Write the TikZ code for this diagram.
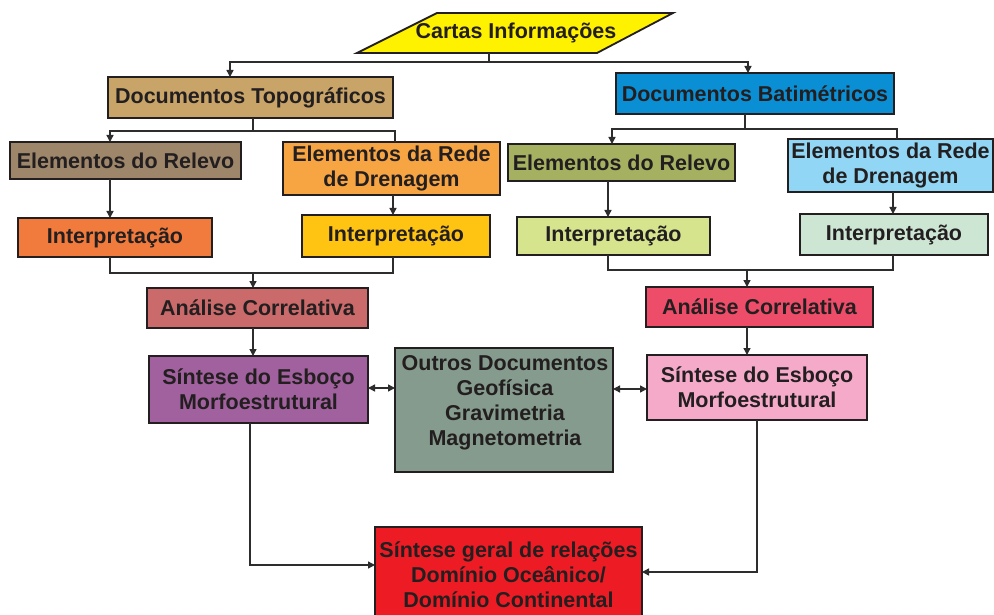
\documentclass[tikz,border=0pt]{standalone}
\usepackage{fontspec}
\setmainfont{Liberation Sans}
\usetikzlibrary{arrows.meta}
\definecolor{cCartas}{RGB}{255,242,0}
\definecolor{cTopo}{RGB}{200,164,104}
\definecolor{cBat}{RGB}{10,142,212}
\definecolor{cRelL}{RGB}{158,134,106}
\definecolor{cDrenL}{RGB}{247,164,66}
\definecolor{cIntLa}{RGB}{241,123,60}
\definecolor{cIntLb}{RGB}{255,196,18}
\definecolor{cRelR}{RGB}{165,177,96}
\definecolor{cDrenR}{RGB}{145,215,245}
\definecolor{cIntRa}{RGB}{215,228,142}
\definecolor{cIntRb}{RGB}{205,230,212}
\definecolor{cAnaL}{RGB}{202,106,106}
\definecolor{cAnaR}{RGB}{237,77,105}
\definecolor{cSinL}{RGB}{161,96,158}
\definecolor{cSinR}{RGB}{246,170,202}
\definecolor{cOutros}{RGB}{133,155,141}
\definecolor{cGeral}{RGB}{237,28,36}
\definecolor{boxline}{RGB}{35,31,32}
\definecolor{linecol}{RGB}{45,45,45}
\definecolor{txtcol}{RGB}{35,31,32}
\begin{document}
\begin{tikzpicture}[x=1pt,y=-1pt,
  lbl/.style={inner sep=0pt, outer sep=0pt, align=center, text=txtcol,
    font=\fontsize{21.5}{25}\selectfont\bfseries},
  box/.style={lbl, draw=boxline, line width=1.8pt},
  conn/.style={draw=linecol, line width=1.4pt},
  arr/.style={conn, -{Triangle[length=7pt,width=7pt]}},
  darr/.style={conn, {Triangle[length=7pt,width=7pt]}-{Triangle[length=7pt,width=7pt]}}
]
\useasboundingbox (0,0) rectangle (994,615);
\fill[white] (0,0) rectangle (994,615);

% top parallelogram
\filldraw[fill=cCartas, draw=boxline, line width=1.8pt]
  (437,13) -- (673,13) -- (597,53) -- (357,53) -- cycle;
\node[lbl] (cartas) at (516,33) {Cartas Informações};
\coordinate (cartasout) at (489,53);
\coordinate (cj) at (489,62);

% boxes
\node[box, fill=cTopo, minimum width=285pt, minimum height=41pt] (docTopo) at (250.5,97.5) {Documentos Topográficos};
\node[box, fill=cBat, minimum width=278pt, minimum height=41pt] (docBat) at (755,93.5) {Documentos Batimétricos};

\node[box, fill=cRelL, minimum width=231pt, minimum height=37pt] (relL) at (125.5,160.5) {Elementos do Relevo};
\node[box, fill=cDrenL, minimum width=217pt, minimum height=53pt] (drenL) at (391.5,168.5) {Elementos da Rede\\de Drenagem};
\node[box, fill=cRelR, minimum width=227pt, minimum height=37pt] (relR) at (621.5,162.5) {Elementos do Relevo};
\node[box, fill=cDrenR, minimum width=205pt, minimum height=53pt] (drenR) at (890.5,165.5) {Elementos da Rede\\de Drenagem};

\node[box, fill=cIntLa, minimum width=194pt, minimum height=39pt] (intLa) at (115,237.5) {Interpretação};
\node[box, fill=cIntLb, minimum width=188pt, minimum height=42pt] (intLb) at (396,236) {Interpretação};
\node[box, fill=cIntRa, minimum width=193pt, minimum height=38pt] (intRa) at (613.5,236) {Interpretação};
\node[box, fill=cIntRb, minimum width=188pt, minimum height=41pt] (intRb) at (894,234.5) {Interpretação};

\node[box, fill=cAnaL, minimum width=221pt, minimum height=40pt] (anaL) at (257.5,308) {Análise Correlativa};
\node[box, fill=cAnaR, minimum width=227pt, minimum height=40pt] (anaR) at (759.5,307) {Análise Correlativa};

\node[box, fill=cSinL, minimum width=219pt, minimum height=67pt] (sinL) at (258.5,389.5) {Síntese do Esboço\\Morfoestrutural};
\node[box, fill=cSinR, minimum width=220pt, minimum height=65pt] (sinR) at (757,387.5) {Síntese do Esboço\\Morfoestrutural};

\node[box, fill=cOutros, minimum width=218pt, minimum height=124pt] (outros) at (504,410) {};
\node[lbl] (outrosTxt) at (505,403) {Outros Documentos\\Geofísica\\Gravimetria\\Magnetometria};

\node[box, fill=cGeral, minimum width=267pt, minimum height=96pt] (geral) at (508.5,575) {Síntese geral de relações\\Domínio Oceânico/\\Domínio Continental};

% connectors from top
\draw[conn] (cartasout) -- (cj);
\draw[arr] (cj) -| ([xshift=-20.5pt]docTopo.north);
\draw[arr] (cj) -| ([xshift=-7pt]docBat.north);

% left branch
\coordinate (tj) at (253,131);
\draw[conn] ([xshift=2.5pt]docTopo.south) -- (tj);
\draw[arr] (tj) -| ([xshift=-15.5pt]relL.north);
\draw[conn] (tj) -| ([xshift=3.5pt]drenL.north);
\draw[arr] ([xshift=-15.5pt]relL.south) -- ([xshift=-15.5pt]relL.south |- intLa.north);
\draw[arr] ([xshift=1.5pt]drenL.south) -- ([xshift=1.5pt]drenL.south |- intLb.north);

% right branch
\coordinate (bj) at (745,129);
\draw[conn] ([xshift=-10pt]docBat.south) -- (bj);
\draw[arr] (bj) -| ([xshift=-9.5pt]relR.north);
\draw[conn] (bj) -| ([xshift=6.5pt]drenR.north);
\draw[arr] ([xshift=-13.5pt]relR.south) -- ([xshift=-13.5pt]relR.south |- intRa.north);
\draw[arr] ([xshift=2.5pt]drenR.south) -- ([xshift=2.5pt]drenR.south |- intRb.north);

% brackets to analysis
\coordinate (lb) at (253,273);
\draw[conn] ([xshift=-5pt]intLa.south) |- (lb) -| ([xshift=-3pt]intLb.south);
\draw[arr] (lb) -- (lb |- anaL.north);
\coordinate (rb) at (747,270);
\draw[conn] ([xshift=-5.5pt]intRa.south) |- (rb) -| ([xshift=-1pt]intRb.south);
\draw[arr] (rb) -- (rb |- anaR.north);

% analysis to synthesis
\draw[arr] ([xshift=-4.5pt]anaL.south) -- ([xshift=-4.5pt]anaL.south |- sinL.north);
\draw[arr] ([xshift=-12.5pt]anaR.south) -- ([xshift=-12.5pt]anaR.south |- sinR.north);

% double arrows
\draw[darr] ([yshift=1.5pt]sinL.east) -- ([yshift=1.5pt]sinL.east -| outros.west);
\draw[darr] ([yshift=-1.5pt]sinR.west -| outros.east) -- ([yshift=-1.5pt]sinR.west);

% to final box
\draw[arr] ([xshift=-8.5pt]sinL.south) |- ([yshift=10pt]geral.west);
\draw[arr] (sinR.south) |- ([yshift=3pt]geral.east);
\end{tikzpicture}
\end{document}
